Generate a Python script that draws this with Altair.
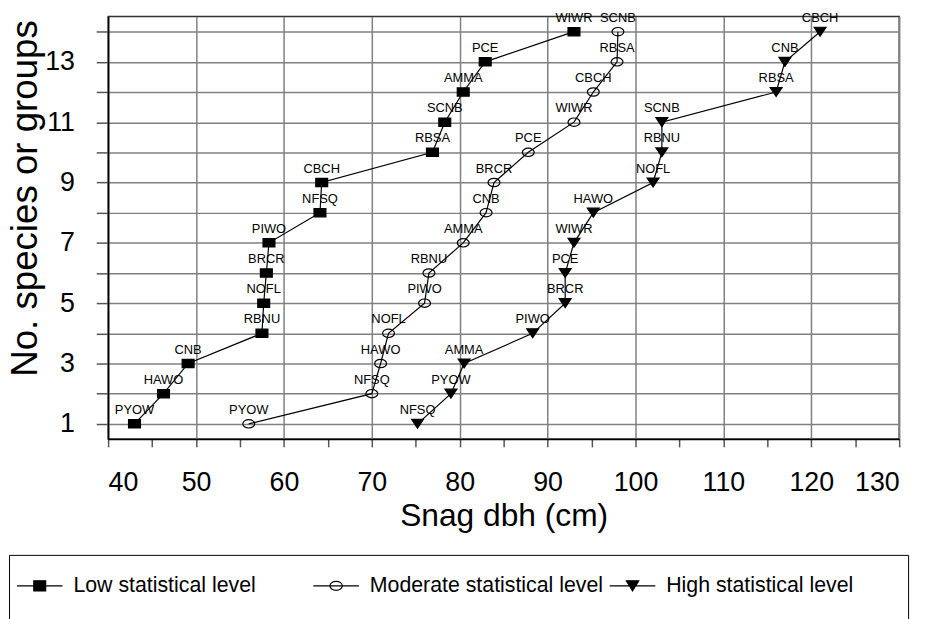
import altair as alt
import pandas as pd

# --- data -------------------------------------------------------------------
n_species = list(range(1, 15))

low_dbh = [43.0, 46.3, 49.1, 57.5, 57.7, 58.0, 58.3, 64.1, 64.3, 76.9, 78.3, 80.4, 82.9, 93.0]
low_lab = ["PYOW", "HAWO", "CNB", "RBNU", "NOFL", "BRCR", "PIWO", "NFSQ", "CBCH",
           "RBSA", "SCNB", "AMMA", "PCE", "WIWR"]

mod_dbh = [56.0, 70.0, 71.0, 71.9, 76.0, 76.5, 80.4, 83.0, 83.9, 87.8, 93.0, 95.2, 97.9, 98.0]
mod_lab = ["PYOW", "NFSQ", "HAWO", "NOFL", "PIWO", "RBNU", "AMMA", "CNB", "BRCR",
           "PCE", "WIWR", "CBCH", "RBSA", "SCNB"]

high_dbh = [75.2, 79.0, 80.5, 88.3, 92.0, 92.0, 93.0, 95.2, 102.0, 103.0, 103.0, 116.0, 117.0, 121.0]
high_lab = ["NFSQ", "PYOW", "AMMA", "PIWO", "BRCR", "PCE", "WIWR", "HAWO", "NOFL",
            "RBNU", "SCNB", "RBSA", "CNB", "CBCH"]

series_names = ["Low statistical level", "Moderate statistical level", "High statistical level"]

rows = []
for name, xs, labs in zip(series_names, [low_dbh, mod_dbh, high_dbh], [low_lab, mod_lab, high_lab]):
    for yv, xv, lb in zip(n_species, xs, labs):
        rows.append({"series": name, "dbh": xv, "n": yv, "label": lb})
df = pd.DataFrame(rows)

FONT = "Liberation Sans"

# marker shapes (unit square paths)
marker_paths = [
    "M-1,-0.7H1V0.7H-1Z",                                   # filled rectangle
    "M-1,0A1,0.7 0 1,1 1,0A1,0.7 0 1,1 -1,0Z",              # open ellipse
    "M-1,-0.75L1,-0.75L0,0.75Z",                            # filled down triangle
]
marker_filled = [True, False, True]

legend_paths = [
    "M-1,0H1M-0.26,-0.22H0.26V0.22H-0.26Z",
    "M-1,0H1M-0.27,0A0.27,0.2 0 1,1 0.27,0A0.27,0.2 0 1,1 -0.27,0Z",
    "M-1,0H1M-0.27,-0.22L0.27,-0.22L0,0.22Z",
]

x_enc = alt.X(
    "dbh:Q",
    scale=alt.Scale(domain=[40, 130], nice=False, zero=False),
    axis=alt.Axis(
        title="Snag dbh (cm)",
        values=list(range(40, 131, 5)),
        labelExpr="datum.value % 10 == 0 ? datum.label : ''",
        gridOpacity={"condition": {"test": "datum.value % 10 != 0", "value": 0}, "value": 1},
        tickSize=8,
        labelPadding=23,
        labelFontSize=27,
        titleFontSize=32,
        titlePadding=5,
    ),
)
y_enc = alt.Y(
    "n:Q",
    scale=alt.Scale(domain=[0.5, 14.5], nice=False, zero=False),
    axis=alt.Axis(
        title="No. species or groups",
        values=n_species,
        labelExpr="datum.value % 2 == 1 ? datum.label : ''",
        tickSize=12,
        labelPadding=22,
        labelFontSize=27,
        titleFontSize=37,
        titleY=183,
        titlePadding=0,
    ),
)

base = alt.Chart(df)

lines = base.mark_line(color="black", strokeWidth=1.2).encode(
    x=x_enc, y=y_enc, detail="series:N", order="n:Q"
)

point_layers = []
for name, path, filled in zip(series_names, marker_paths, marker_filled):
    if filled:
        mk = base.mark_point(shape=path, size=144, filled=True, fill="black",
                             stroke="black", strokeWidth=1.2, opacity=1)
    else:
        mk = base.mark_point(shape=path, size=144, filled=False,
                             stroke="black", strokeWidth=1.2, opacity=1)
    point_layers.append(
        mk.transform_filter(alt.datum.series == name).encode(x=x_enc, y=y_enc)
    )

labels = base.mark_text(dy=-14, fontSize=13, font=FONT, color="black").encode(
    x=x_enc, y=y_enc, text="label:N"
)

# invisible padding (non-breaking spaces closed by a zero-width char so it is not trimmed)
pad = "\u00a0" * 8 + "\u200b"
legend_def = alt.Legend(
    title="\u00a0",
    titleOrient="bottom",
    titleFontSize=24,
    titlePadding=10,
    orient="none",
    legendX=-100,
    legendY=543,
    direction="horizontal",
    columns=3,
    gridAlign="all",
    columnPadding=2,
    labelOffset=10,
    padding=7,
    strokeColor="black",
    labelFont=FONT,
    labelFontSize=21.5,
    labelLimit=400,
    labelColor="black",
    labelExpr="datum.label == 'High statistical level' ? datum.label + '" + pad + "' : datum.label",
    symbolSize=2116,
    symbolStrokeWidth=1.2,
    symbolStrokeColor="black",
    symbolOpacity=1,
)

legend_layer = base.transform_filter("false").mark_point(
    filled=False, strokeWidth=1.2, size=2116, opacity=1
).encode(
    x=x_enc,
    y=y_enc,
    shape=alt.Shape("series:N", scale=alt.Scale(domain=series_names, range=legend_paths), legend=legend_def),
    fill=alt.Fill("series:N", scale=alt.Scale(domain=series_names, range=["black", "transparent", "black"]),
                  legend=legend_def),
    stroke=alt.Stroke("series:N", scale=alt.Scale(domain=series_names, range=["black", "black", "black"]),
                      legend=legend_def),
)

chart = alt.layer(lines, *point_layers, labels, legend_layer).properties(
    width=798,
    height=426,
    autosize=alt.AutoSizeParams(type="none"),
    padding={"left": 101, "top": 6, "right": 22, "bottom": 179},
).configure(
    font=FONT,
).configure_axis(
    labelFont=FONT,
    titleFont=FONT,
    labelColor="black",
    titleColor="black",
    titleFontWeight="normal",
    gridColor="#808080",
    gridWidth=1.5,
    domainColor="black",
    domainWidth=1.5,
    tickColor="#555555",
    tickWidth=1.5,
).configure_view(
    stroke="#333333",
    strokeWidth=1.5,
)

chart.save("out.html", embed_options={"renderer": "svg", "actions": False})
